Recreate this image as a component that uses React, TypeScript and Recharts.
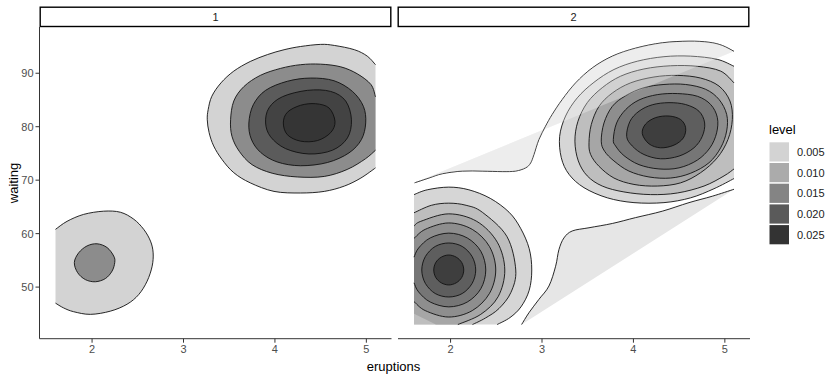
import React from "react";
import { ScatterChart, Scatter, XAxis, YAxis } from "recharts";

type Pt = { x: number; y: number };
const pts = (a: number[][]): Pt[] => a.map(([x, y]) => ({ x, y }));

const FONT = "'Liberation Sans', Arial, sans-serif";
const facetLabels = ["1", "2"];
const xTicks = [2, 3, 4, 5];
const yTicks = [50, 60, 70, 80, 90];
const xDomain = [1.425, 5.275];
const yDomain = [40.35, 98.65];
const legendLevels = ["0.005", "0.010", "0.015", "0.020", "0.025"];
const legendFills = ["#d3d3d3", "#ababab", "#848484", "#5a5a5a", "#333333"];

// ---- facet 1 contours ----
const f1UpOuter = pts([[5.1,91.6],[5.01,93.2],[4.87,94.4],[4.65,95.2],[4.5,95.4],[4.28,95.0],[4.1,94.4],[3.92,93.5],[3.73,92.2],[3.55,90.4],[3.41,88.2],[3.31,85.7],[3.27,83.2],[3.26,81.3],[3.28,78.9],[3.33,76.4],[3.42,73.9],[3.55,71.4],[3.73,69.5],[3.99,67.9],[4.28,67.6],[4.54,67.9],[4.76,68.9],[4.94,70.4],[5.1,72.3]]);
const f1UpRing2 = pts([[5.1,85.6],[5.05,87.9],[4.9,89.9],[4.72,91.2],[4.5,91.7],[4.28,91.6],[4.06,90.9],[3.84,89.6],[3.66,87.5],[3.55,84.8],[3.515,81.3],[3.53,78.2],[3.61,75.4],[3.75,72.9],[3.97,71.3],[4.245,70.6],[4.54,70.7],[4.79,72.0],[4.99,74.0],[5.1,75.6]]);
const f1UpRing3 = pts([[3.715,80.7],[3.763,84.1],[3.898,86.8],[4.136,88.5],[4.391,89.1],[4.646,88.6],[4.848,86.6],[4.968,83.8],[4.993,80.7],[4.946,77.6],[4.81,75.1],[4.574,73.3],[4.28,72.7],[4.026,73.4],[3.843,75.2],[3.741,77.7]]);
const f1UpRing4 = pts([[3.898,80.7],[3.934,83.5],[4.081,85.6],[4.355,86.8],[4.61,86.6],[4.774,84.8],[4.837,81.3],[4.793,77.9],[4.629,75.6],[4.372,74.9],[4.117,75.9],[3.953,78.1]]);
const f1UpRing5 = pts([[4.092,80.7],[4.136,82.7],[4.28,84.0],[4.446,84.3],[4.592,83.5],[4.657,81.0],[4.61,78.9],[4.464,77.4],[4.28,77.3],[4.136,78.5]]);
const f1LowOuter = pts([[1.6,60.8],[1.726,62.3],[1.908,63.6],[2.127,64.2],[2.31,64.0],[2.456,62.7],[2.565,60.8],[2.639,58.6],[2.668,56.4],[2.657,53.9],[2.602,51.1],[2.51,48.6],[2.383,46.8],[2.2,45.5],[1.981,44.9],[1.798,45.4],[1.689,46.1],[1.6,47.0]]);
const f1LowInner = pts([[1.806,54.6],[1.853,56.4],[1.945,57.7],[2.055,58.1],[2.164,57.4],[2.237,55.8],[2.248,54.6],[2.219,53.0],[2.146,51.6],[2.036,51.0],[1.927,51.4],[1.842,52.7]]);

// ---- facet 2 contours ----
const f2CurveA = pts([[1.606,69.5],[1.763,70.4],[1.909,71.2],[2.128,71.7],[2.346,71.7],[2.565,71.6],[2.711,71.7],[2.821,72.3],[2.875,73.2],[2.912,74.8],[2.966,77.6],[3.039,80.1],[3.112,82.3],[3.222,85.1],[3.368,88.2],[3.55,91.0],[3.769,93.2],[4.024,94.7],[4.316,95.7],[4.608,96.0],[4.826,95.8],[4.972,95.2],[5.1,94.1]]);
const f2CurveB = pts([[2.777,43.0],[2.857,45.2],[2.966,47.7],[3.076,50.2],[3.149,53.9],[3.185,57.0],[3.24,59.2],[3.331,60.5],[3.514,61.1],[3.769,61.9],[4.024,63.0],[4.316,64.2],[4.608,65.8],[4.863,67.0],[5.1,68.3]]);

const f2Up1 = pts([[5.1,91.3],[4.917,92.6],[4.626,93.2],[4.334,93.1],[4.042,92.25],[3.787,90.7],[3.568,88.3],[3.386,85.4],[3.258,82.0],[3.193,78.2],[3.211,74.2],[3.295,71.1],[3.459,68.6],[3.714,66.7],[4.006,65.8],[4.334,65.8],[4.626,66.7],[4.881,68.4],[5.1,70.3]]);
const f2Up2 = pts([[5.1,88.2],[4.954,90.4],[4.699,91.3],[4.407,91.4],[4.115,90.8],[3.86,89.45],[3.659,87.3],[3.495,84.5],[3.393,81.0],[3.36,77.3],[3.397,73.6],[3.495,70.8],[3.659,68.9],[3.896,67.8],[4.188,67.3],[4.48,67.6],[4.772,68.9],[4.991,70.8],[5.1,72.1]]);
const f2Up3 = pts([[3.514,77.0],[3.539,80.4],[3.623,83.8],[3.769,86.3],[3.969,88.2],[4.225,89.3],[4.48,89.6],[4.735,89.1],[4.936,87.6],[5.056,84.8],[5.082,81.35],[5.034,77.6],[4.918,74.2],[4.735,71.4],[4.516,69.5],[4.261,68.9],[4.006,69.2],[3.787,70.4],[3.623,72.6],[3.532,74.8]]);
const f2Up4 = pts([[3.648,77.3],[3.678,80.7],[3.769,83.8],[3.915,85.8],[4.115,87.3],[4.334,87.9],[4.571,87.9],[4.79,87.0],[4.936,85.1],[5.02,82.3],[5.02,79.2],[4.954,76.05],[4.826,73.25],[4.626,71.3],[4.407,70.4],[4.17,70.6],[3.951,71.7],[3.787,73.6],[3.685,75.4]]);
const f2Up5 = pts([[3.78,77.6],[3.816,80.7],[3.915,83.2],[4.061,85.0],[4.261,86.0],[4.48,86.2],[4.699,85.7],[4.845,84.15],[4.918,81.7],[4.91,78.85],[4.837,76.05],[4.699,73.75],[4.498,72.3],[4.279,72.1],[4.061,72.9],[3.896,74.6],[3.805,76.4]]);
const f2Up6 = pts([[3.926,78.2],[3.962,81.0],[4.061,82.9],[4.206,84.1],[4.389,84.5],[4.571,84.15],[4.717,82.9],[4.779,80.7],[4.753,78.2],[4.662,76.05],[4.498,74.5],[4.297,74.0],[4.115,74.8],[3.987,76.4]]);
const f2Up7 = pts([[4.097,78.7],[4.133,80.5],[4.243,81.7],[4.389,82.0],[4.516,81.35],[4.571,79.8],[4.546,77.9],[4.443,76.55],[4.298,76.05],[4.17,76.8]]);

const f2Low1 = pts([[1.6,67.3],[1.745,68.2],[1.98,68.7],[2.2,68.2],[2.434,66.6],[2.64,64.0],[2.766,61.0],[2.86,57.2],[2.888,53.2],[2.86,49.4],[2.77,46.3],[2.65,44.3],[2.51,43.0]]);
const f2Low2 = pts([[1.6,63.9],[1.79,65.3],[1.98,65.7],[2.17,65.3],[2.347,64.0],[2.615,59.5],[2.713,53.2],[2.66,49.0],[2.53,46.0],[2.38,44.2],[2.24,43.0]]);
const f2Low3 = pts([[1.6,61.4],[1.674,62.3],[1.98,63.7],[2.286,62.3],[2.511,58.4],[2.593,53.2],[2.52,48.2],[2.33,44.9],[2.08,43.0]]);
const f2Low4 = pts([[1.6,59.1],[1.723,60.8],[1.98,62.0],[2.237,60.8],[2.425,57.6],[2.494,53.2],[2.425,48.8],[2.237,45.6],[1.98,44.4],[1.723,45.6],[1.6,47.3]]);
const f2Low5 = pts([[1.6,55.6],[1.65,57.3],[1.778,59.2],[1.98,60.1],[2.182,59.2],[2.331,56.7],[2.385,53.2],[2.331,49.7],[2.182,47.2],[1.98,46.3],[1.778,47.2],[1.65,49.1],[1.6,50.8]]);
const f2Low6 = pts([[2.275,53.2],[2.236,55.7],[2.128,57.6],[1.98,58.25],[1.832,57.6],[1.724,55.7],[1.685,53.2],[1.724,50.7],[1.832,48.8],[1.98,48.15],[2.128,48.8],[2.236,50.7]]);
const f2Low7 = pts([[2.144,53.2],[2.122,54.6],[2.062,55.6],[1.98,56.0],[1.898,55.6],[1.838,54.6],[1.816,53.2],[1.838,51.8],[1.898,50.8],[1.98,50.4],[2.062,50.8],[2.122,51.8]]);
// grid corner / edge points used to close the clipped fills
const f2Corner = pts([[1.6, 43.0]]);
const f2Low3Corner = pts([[1.84, 43.0], [1.6, 45.0]]);

type Layer = { data: Pt[]; fill: string; closed?: boolean; tail?: number; opacity?: number; noStroke?: boolean };

const facet1Layers: Layer[] = [
  { data: f1LowOuter, fill: "#d3d3d3" },
  { data: f1LowInner, fill: "#8c8c8c", closed: true },
  { data: f1UpOuter, fill: "#d3d3d3" },
  { data: f1UpRing2, fill: "#8c8c8c" },
  { data: f1UpRing3, fill: "#5b5b5b", closed: true },
  { data: f1UpRing4, fill: "#434343", closed: true },
  { data: f1UpRing5, fill: "#353535", closed: true },
];

const facet2Layers: Layer[] = [
  { data: f2CurveA, fill: "#e6e6e6" },
  { data: f2CurveB, fill: "#e6e6e6" },
  { data: [...f2Low1, ...f2Corner], fill: "#d6d6d6", tail: 1 },
  { data: f2Up1, fill: "#d6d6d6" },
  { data: [...f2Low2, ...f2Corner], fill: "#bebebe", tail: 1 },
  { data: f2Up2, fill: "#bebebe" },
  { data: [...f2Low3, ...f2Low3Corner], fill: "#a6a6a6", tail: 2 },
  { data: f2Up3, fill: "#a6a6a6", closed: true },
  { data: f2Low4, fill: "#8e8e8e" },
  { data: f2Up4, fill: "#8e8e8e", closed: true },
  { data: f2Low5, fill: "#767676" },
  { data: f2Up5, fill: "#767676", closed: true },
  { data: f2Low6, fill: "#5e5e5e", closed: true },
  { data: f2Up6, fill: "#5e5e5e", closed: true },
  { data: f2Low7, fill: "#3e3e3e", closed: true },
  { data: f2Up7, fill: "#3e3e3e", closed: true },
  // light veil where the lowest open contour closes with a straight chord
  { data: f2CurveA, fill: "#ffffff", opacity: 0.3, noStroke: true },
];

// Catmull-Rom through the projected points
function smooth(p: Pt[], closed: boolean): string {
  const n = p.length;
  if (n < 2) return "";
  const get = (i: number) => (closed ? p[(i + n) % n] : p[Math.max(0, Math.min(n - 1, i))]);
  let d = `M${p[0].x},${p[0].y}`;
  const segs = closed ? n : n - 1;
  for (let i = 0; i < segs; i++) {
    const p0 = get(i - 1), p1 = get(i), p2 = get(i + 1), p3 = get(i + 2);
    d += `C${p1.x + (p2.x - p0.x) / 6},${p1.y + (p2.y - p0.y) / 6} ${p2.x - (p3.x - p1.x) / 6},${p2.y - (p3.y - p1.y) / 6} ${p2.x},${p2.y}`;
  }
  return closed ? d + "Z" : d;
}

function contourLine(l: Layer) {
  return (props: any) => {
    const all: Pt[] = props.points || [];
    const n = all.length - (l.tail ?? 0);
    const d = smooth(all.slice(0, n), !!l.closed);
    const fillD = l.closed ? d : d + all.slice(n).map((q) => `L${q.x},${q.y}`).join("") + "Z";
    return (
      <g>
        <path d={fillD} fill={l.fill} fillOpacity={l.opacity ?? 1} stroke="none" />
        {!l.noStroke && <path d={d} fill="none" stroke="#111" strokeWidth={0.9} />}
      </g>
    );
  };
}

const axisTick = { fill: "#4d4d4d", fontSize: 11, fontFamily: FONT };

function Facet({ layers, showY, width }: { layers: Layer[]; showY: boolean; width: number }) {
  return (
    <ScatterChart width={width} height={341.7} margin={{ top: 0, right: 0, bottom: 0, left: 0 }}>
      <XAxis
        type="number"
        dataKey="x"
        domain={xDomain}
        ticks={xTicks}
        allowDataOverflow
        interval={0}
        height={30}
        tickSize={4}
        tickMargin={3}
        tick={axisTick}
        tickLine={{ stroke: "#333" }}
        axisLine={{ stroke: "#333" }}
      />
      <YAxis
        type="number"
        dataKey="y"
        domain={yDomain}
        ticks={yTicks}
        allowDataOverflow
        interval={0}
        hide={!showY}
        width={showY ? 39.5 : 0}
        tickSize={4}
        tickMargin={2}
        tick={axisTick}
        tickLine={{ stroke: "#333" }}
        axisLine={{ stroke: "#333" }}
      />
      {layers.map((l, i) => (
        <Scatter
          key={i}
          data={l.data}
          line={contourLine(l)}
          lineType="joint"
          shape={() => <g />}
          legendType="none"
          isAnimationActive={false}
        />
      ))}
    </ScatterChart>
  );
}

export default function App() {
  return (
    <div style={{ position: "absolute", left: 0, top: 0, width: 836, height: 374, background: "#fff", overflow: "hidden", fontFamily: FONT }}>
      <svg width={836} height={374} style={{ position: "absolute", left: 0, top: 0 }}>
        {facetLabels.map((f, i) => {
          const x0 = i === 0 ? 40.2 : 398.2;
          return (
            <g key={f}>
              <rect x={x0} y={7.2} width={350.6} height={19.3} fill="#fff" stroke="#000" strokeWidth={1.4} />
              <text x={x0 + 175.3} y={17} textAnchor="middle" dominantBaseline="central" fontSize={11} fill="#1a1a1a" fontFamily={FONT}>
                {f}
              </text>
            </g>
          );
        })}
        <text transform="translate(13.5,183) rotate(-90)" textAnchor="middle" dominantBaseline="central" fontSize={13} fill="#000" fontFamily={FONT}>
          waiting
        </text>
        <text x={393.5} y={366} textAnchor="middle" dominantBaseline="central" fontSize={13} fill="#000" fontFamily={FONT}>
          eruptions
        </text>
        <text x={769} y={129.5} dominantBaseline="central" fontSize={13} fill="#000" fontFamily={FONT}>
          level
        </text>
        {legendLevels.map((lv, i) => (
          <g key={lv}>
            <rect x={769.5} y={142.3 + i * 20.7} width={19.5} height={19.2} fill={legendFills[i]} />
            <text x={797} y={152 + i * 20.7} dominantBaseline="central" fontSize={11} fill="#222" fontFamily={FONT}>
              {lv}
            </text>
          </g>
        ))}
      </svg>
      <div style={{ position: "absolute", left: 0, top: 27 }}>
        <Facet layers={facet1Layers} showY width={391.5} />
      </div>
      <div style={{ position: "absolute", left: 397.5, top: 27 }}>
        <Facet layers={facet2Layers} showY={false} width={352} />
      </div>
    </div>
  );
}
